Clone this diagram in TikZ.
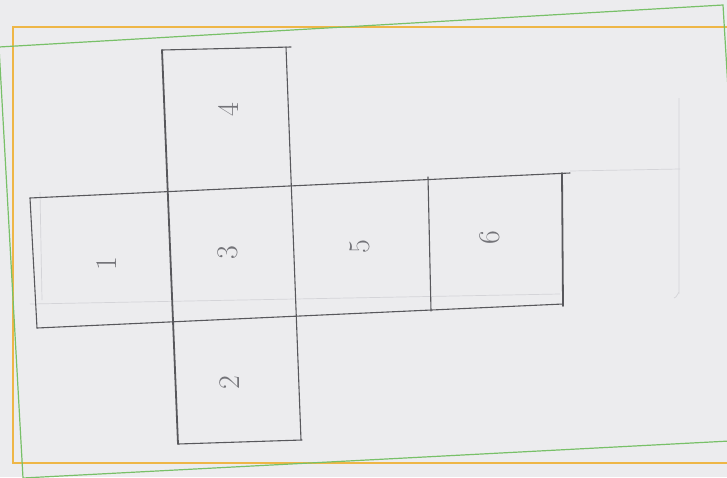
\documentclass[tikz,border=0pt]{standalone}
\begin{document}
\definecolor{paper}{RGB}{236,236,238}
\definecolor{pencilgray}{RGB}{88,88,92}
\definecolor{faintgray}{RGB}{212,212,216}
\definecolor{digitgray}{RGB}{115,115,120}
\definecolor{frameorange}{RGB}{238,182,70}
\definecolor{framegreen}{RGB}{120,192,104}
\begin{tikzpicture}[x=1pt,y=-1pt,
  pencil/.style={draw=pencilgray, line width=1.1pt, line cap=round},
  boldline/.style={pencil, line width=1.8pt},
  faint/.style={draw=faintgray, line width=0.7pt},
  digit/.style={text=digitgray, font=\fontsize{30}{30}\selectfont, rotate=90, inner sep=0pt},
  frameline/.style={line width=1.2pt}]
\fill[paper] (0,0) rectangle (727,477);
\useasboundingbox (0,0) rectangle (727,477);
% faint guide lines
\draw[faint] (30,304) -- (560,294);
\draw[faint] (40,192) -- (42,300);
\draw[faint] (570,171) -- (680,169);
\draw[faint] (679,98) -- (679,293) to[out=90,in=0] (674,298);
% the net
\draw[pencil] (162,50) -- (291,47);
\draw[boldline] (162,50) -- (178,444);
\draw[pencil] (286,47) -- (301,440);
\draw[pencil] (178,444) -- (302,440);
\draw[pencil] (30,198) -- (570,173);
\draw[pencil] (30,198) -- (37,328);
\draw[pencil] (37,328) -- (563,304);
\draw[pencil] (428,177) -- (431,311);
\draw[boldline] (562,173) -- (563,306);
% labels
\node[digit] (f4) at (228,110) {4};
\node[digit] (f3) at (228,253) {3};
\node[digit] (f1) at (107,264) {1};
\node[digit] (f5) at (360,247) {5};
\node[digit] (f6) at (490,238) {6};
\node[digit] (f2) at (230,383) {2};
% frames
\draw[frameline, frameorange] (13,27) rectangle (731,463);
\draw[frameline, framegreen] (-1,47) -- (723,5) -- (749,440) -- (23,478) -- cycle;
\end{tikzpicture}
\end{document}
